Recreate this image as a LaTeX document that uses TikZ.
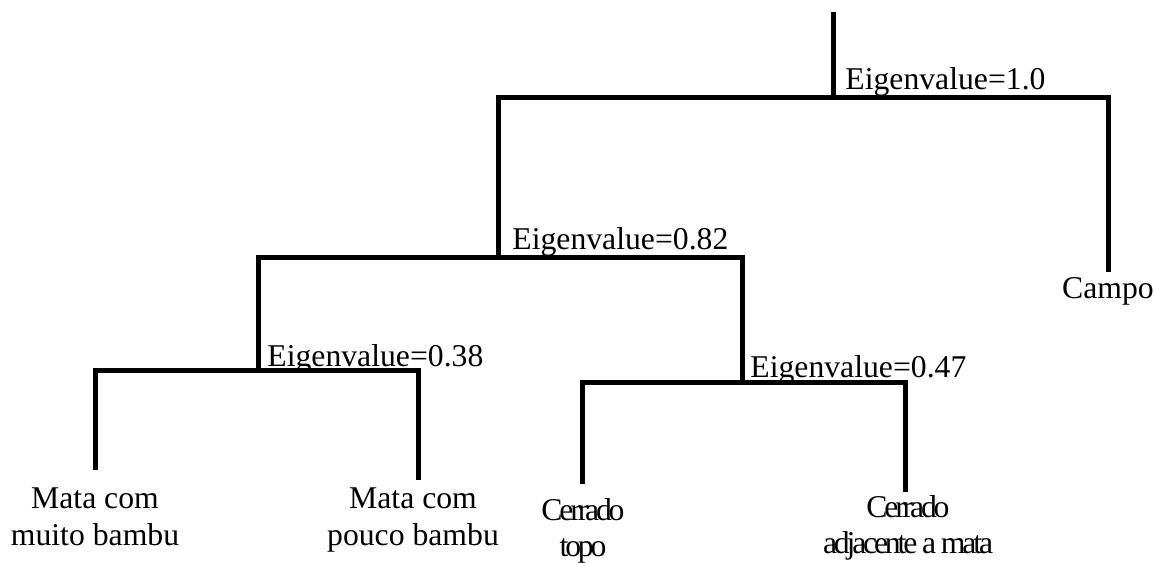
\documentclass[tikz,border=0pt]{standalone}
\usepackage{fontspec}
\setmainfont{Liberation Serif}
\begin{document}
\begin{tikzpicture}[x=0.5pt,y=-0.5pt,line join=miter,font=\fontsize{15.85}{18.5}\selectfont]
\tikzset{branch/.style={line width=2.5pt},
eig/.style={anchor=base west,inner sep=0pt},
leaf/.style={anchor=base,align=center,inner sep=0pt},
tight/.style={font=\fontsize{15.85}{18}\selectfont\addfontfeatures{LetterSpace=-10}}}
\useasboundingbox (0,0) rectangle (1155,562);
\coordinate (top) at (833,12);
\coordinate (n1) at (833,97);
\coordinate (n2) at (498,257);
\coordinate (n3) at (258,370);
\coordinate (n4) at (742,382);
\coordinate (campo) at (1108,272);
\coordinate (mata1) at (95,470);
\coordinate (mata2) at (418,480);
\coordinate (cerr1) at (582,484);
\coordinate (cerr2) at (905,492);
\draw[branch] (top)--(n1);
\draw[branch] (n2)|-(n1)-|(campo);
\draw[branch] (n3)|-(n2)-|(n4);
\draw[branch] (mata1)|-(n3)-|(mata2);
\draw[branch] (cerr1)|-(n4)-|(cerr2);
\node[eig] (e1) at (845,89) {Eigenvalue=1.0};
\node[eig] (e2) at (512,249) {Eigenvalue=0.82};
\node[eig] (e3) at (267,366) {Eigenvalue=0.38};
\node[eig] (e4) at (750,377) {Eigenvalue=0.47};
\node[leaf] (lc) at (1108,298) {Campo};
\node[leaf] (lm1) at (95,545) {Mata com\\muito bambu};
\node[leaf] (lm2) at (413,545) {Mata com\\pouco bambu};
\node[leaf,tight] (lc1) at (583,556) {Cerrado\\topo};
\node[leaf,tight] (lc2) at (908,553) {Cerrado\\adjacente a mata};
\end{tikzpicture}
\end{document}
